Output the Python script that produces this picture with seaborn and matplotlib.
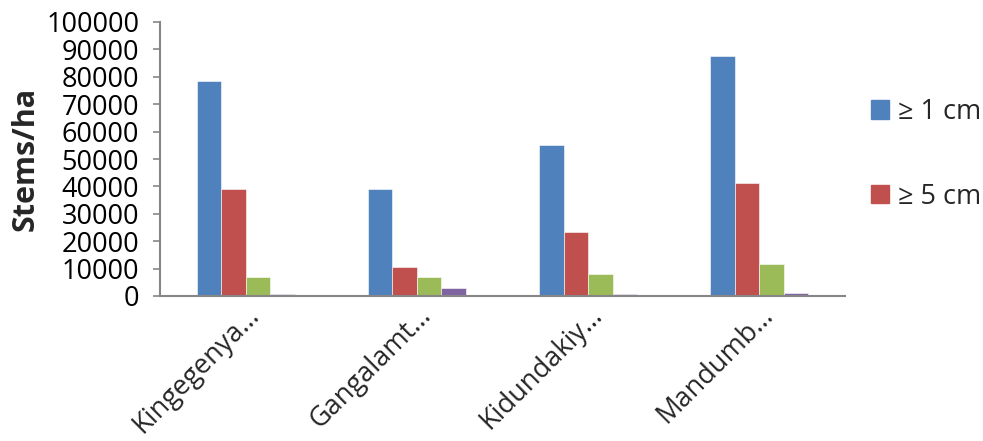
import matplotlib
matplotlib.use("Agg")
import matplotlib.pyplot as plt
import matplotlib.patches as mpatches
import matplotlib.transforms as mtransforms
import seaborn as sns
import pandas as pd

# Stem density by site and diameter class
sites = ["Kingegenya…", "Gangalamt…", "Kidundakiy…", "Mandumb…"]
classes = ["≥ 1 cm", "≥ 5 cm", "≥ 10 cm", "≥ 20 cm"]
stems_1cm = [78600, 39000, 55000, 87600]
stems_5cm = [39000, 10600, 23200, 41100]
stems_10cm = [7000, 6800, 8000, 11700]
stems_20cm = [700, 2800, 700, 1000]
colors = ["#4F81BD", "#C0504D", "#9BBB59", "#8064A2"]
y_ticks = list(range(0, 100001, 10000))

sns.set_theme(style="white")
plt.rcParams["font.family"] = ["Open Sans", "DejaVu Sans"]

rows = []
for cls, vals in zip(classes, [stems_1cm, stems_5cm, stems_10cm, stems_20cm]):
    for site, v in zip(sites, vals):
        rows.append({"site": site, "cls": cls, "stems": v})
df = pd.DataFrame(rows)

fig = plt.figure(figsize=(9.83, 4.41), dpi=100)
ax = fig.add_axes([160 / 983, 1 - 296 / 441, 685 / 983, 274 / 441])

sns.barplot(data=df, x="site", y="stems", hue="cls", hue_order=classes,
            palette=colors, width=0.573, gap=0, saturation=1,
            edgecolor="white", linewidth=0.4, ax=ax, legend=False)

ax.set_xlim(-0.5, len(sites) - 0.5)
ax.set_ylim(0, 100000)
ax.set_yticks(y_ticks)
ax.set_yticklabels([str(t) for t in y_ticks], fontsize=19.5, color="black")
ax.set_xlabel("")
ax.set_ylabel("Stems/ha", fontsize=22, fontweight="bold")
ax.yaxis.set_label_coords(-0.175, 0.5)

# slanted site names, nudged right so their ends sit by the group centre
shift = mtransforms.ScaledTranslation(18 / 100, 0, fig.dpi_scale_trans)
for lbl in ax.get_xticklabels():
    lbl.set_rotation(45)
    lbl.set_ha("right")
    lbl.set_va("top")
    lbl.set_rotation_mode("anchor")
    lbl.set_fontsize(19.5)
    lbl.set_transform(lbl.get_transform() + shift)
ax.tick_params(axis="x", length=0, pad=4)
ax.tick_params(axis="y", left=True, length=5, width=1.2, color="#868686",
               direction="out", pad=10)

for side in ["top", "right"]:
    ax.spines[side].set_visible(False)
for side in ["left", "bottom"]:
    ax.spines[side].set_color("#868686")
    ax.spines[side].set_linewidth(1.5)

handles = [mpatches.Patch(color=colors[0], label=classes[0]),
           mpatches.Patch(color=colors[1], label=classes[1])]
fig.legend(handles=handles, loc="upper left", bbox_to_anchor=(871 / 983, 1 - 98 / 441),
           frameon=False, fontsize=19.5, handlelength=0.65, handleheight=0.65,
           handletextpad=0.35, labelspacing=2.1, borderaxespad=0, borderpad=0)

fig.savefig("out.png", dpi=100)
